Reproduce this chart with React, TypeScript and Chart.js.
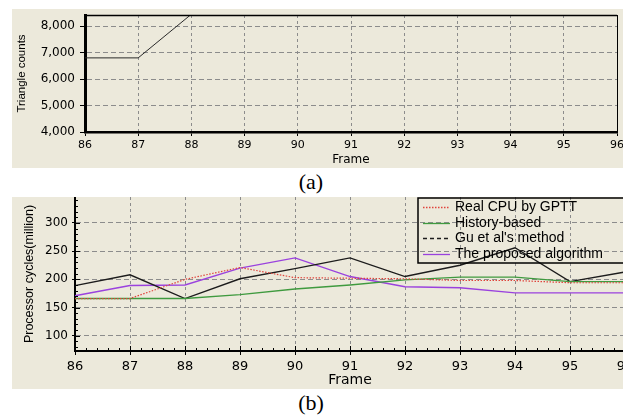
import React, { useEffect, useRef } from "react";
import { Chart, registerables } from "chart.js";
Chart.register(...registerables);

const frames = ["86", "87", "88", "89", "90", "91", "92", "93", "94", "95", "96"];
const triangleTicks = [4000, 5000, 6000, 7000, 8000];
const triangleCounts = [6800, 6800, 8450, null, null, null, null, null, null, null, null];
const cycleTicks = [100, 150, 200, 250, 300];
const realCPU = [166, 166, 200, 221, 203, 202, 201, 198, 198, 194, 194];
const historyBased = [166, 166, 166, 173, 183, 190, 199, 204, 204, 196, 196];
const guEtAl = [189, 208, 166, 201, 219, 238, 205, 225, 256, 196, 213];
const proposed = [171, 189, 190, 220, 238, 205, 187, 185, 176, 176, 176];
const seriesNames = ["Real CPU by GPTT", "History-based", "Gu et al's method", "The proposed algorithm"];
const seriesColors = ["#e0443c", "#3f9a3f", "#1c1c1c", "#9a42de"];
const seriesDash: number[][] = [[1.5, 1.5], [], [], []];
const legendDash: number[][] = [[1.5, 1.5], [], [4, 3], []];

const BG = "#ECE9DB";
const GRID = "#8c8c8c";
const TICK_FONT = "DejaVu Sans";
const TITLE_FONT = "Liberation Sans";

const topRightBorder = {
  id: "topRightBorder",
  afterDraw(chart: any) {
    const { ctx, chartArea: a } = chart;
    ctx.save();
    ctx.strokeStyle = "#000";
    ctx.lineWidth = 1.5;
    ctx.beginPath();
    ctx.moveTo(a.left, a.top + 0.5);
    ctx.lineTo(a.right, a.top + 0.5);
    ctx.stroke();
    ctx.lineWidth = 1;
    ctx.beginPath();
    ctx.moveTo(a.right + 0.5, a.top);
    ctx.lineTo(a.right + 0.5, a.bottom);
    ctx.stroke();
    ctx.restore();
  },
};

const minorTicks = {
  id: "minorTicks",
  afterDraw(chart: any) {
    const { ctx, chartArea: a, scales } = chart;
    ctx.save();
    ctx.strokeStyle = "#000";
    ctx.lineWidth = 1;
    ctx.beginPath();
    for (let v = 80; v <= 340; v += 10) {
      const y = Math.round(scales.y.getPixelForValue(v)) + 0.5;
      if (y < a.top || y > a.bottom) continue;
      ctx.moveTo(a.left, y);
      ctx.lineTo(a.left + (v % 50 === 0 ? 5 : 3), y);
    }
    for (let i = 0; i <= 50; i++) {
      const x = Math.round(scales.x.getPixelForValue(i / 5)) + 0.5;
      ctx.moveTo(x, a.bottom);
      ctx.lineTo(x, a.bottom - (i % 5 === 0 ? 5 : 3));
    }
    ctx.stroke();
    ctx.restore();
  },
};

const insideLegend = {
  id: "insideLegend",
  afterDatasetsDraw(chart: any) {
    const { ctx } = chart;
    const left = 406, top = 1, bottom = 66;
    ctx.save();
    ctx.strokeStyle = "#000";
    ctx.lineWidth = 1.5;
    ctx.strokeRect(left, top, chart.width, bottom - top);
    ctx.font = "14px 'Liberation Sans'";
    ctx.textBaseline = "middle";
    ctx.fillStyle = "#000";
    chart.data.datasets.forEach((ds: any, i: number) => {
      const y = 10 + i * 15.7;
      ctx.beginPath();
      ctx.strokeStyle = ds.borderColor;
      ctx.lineWidth = 1.3;
      ctx.setLineDash(legendDash[i]);
      ctx.moveTo(411, Math.round(y) + 0.5);
      ctx.lineTo(438, Math.round(y) + 0.5);
      ctx.stroke();
      ctx.setLineDash([]);
      ctx.fillText(ds.label, 443, y);
    });
    ctx.restore();
  },
};

function xAxis(size: number, titleSize: number, height: number, tickLen: number, pad: number, borderW: number) {
  return {
    type: "category" as const,
    ticks: { autoSkip: false, maxRotation: 0, font: { family: TICK_FONT, size }, color: "#000", padding: pad },
    grid: { color: GRID, tickColor: "#000", tickLength: tickLen, drawTicks: true },
    border: { color: "#000", width: borderW, dash: [3, 3] },
    title: { display: true, text: "Frame", font: { family: TICK_FONT, size: titleSize }, color: "#000", padding: 0 },
    afterFit: (s: any) => {
      s.height = height;
      s.paddingLeft = 0;
      s.paddingRight = 0;
    },
  };
}

function useChart(ref: React.RefObject<HTMLCanvasElement | null>, make: () => any) {
  useEffect(() => {
    if (!ref.current) return;
    const c = new Chart(ref.current, make());
    return () => c.destroy();
  }, []);
}

export default function App() {
  const refA = useRef<HTMLCanvasElement>(null);
  const refB = useRef<HTMLCanvasElement>(null);

  useEffect(() => {
    document.body.style.margin = "0";
    document.body.style.background = "#fff";
  }, []);

  useChart(refA, () => ({
    type: "line",
    data: {
      labels: frames,
      datasets: [
        { label: "Triangle counts", data: triangleCounts, borderColor: "#2a2a2a", borderWidth: 1, pointRadius: 0, tension: 0, spanGaps: false },
      ],
    },
    options: {
      responsive: false,
      animation: false,
      events: [],
      layout: { padding: { left: 3, top: 6, right: 6, bottom: 1 } },
      plugins: { legend: { display: false }, tooltip: { enabled: false } },
      scales: {
        x: xAxis(11, 12, 35, 4, 3, 2.5),
        y: {
          min: 4000,
          max: 8420,
          afterBuildTicks: (s: any) => {
            s.ticks = triangleTicks.map((v) => ({ value: v }));
          },
          ticks: {
            callback: (v: any) => Number(v).toLocaleString("en-US"),
            font: { family: TICK_FONT, size: 12 },
            color: "#000",
            padding: 5,
          },
          grid: { color: GRID, tickColor: "#000", tickLength: 5 },
          border: { color: "#000", width: 3, dash: [5, 3] },
          title: { display: true, text: "Triangle counts", font: { family: TITLE_FONT, size: 11.5 }, color: "#000", padding: 0 },
          afterFit: (s: any) => {
            s.width = 70;
            s.paddingTop = 0;
            s.paddingBottom = 0;
          },
        },
      },
    },
    plugins: [topRightBorder],
  }));

  useChart(refB, () => ({
    type: "line",
    data: {
      labels: frames,
      datasets: [realCPU, historyBased, guEtAl, proposed].map((d, i) => ({
        label: seriesNames[i],
        data: d,
        borderColor: seriesColors[i],
        borderDash: seriesDash[i],
        borderWidth: i === 0 ? 1.2 : 1.4,
        pointRadius: 0,
        tension: 0,
      })),
    },
    options: {
      responsive: false,
      animation: false,
      events: [],
      layout: { padding: { left: 10, top: 0, right: 27, bottom: 0 } },
      plugins: { legend: { display: false }, tooltip: { enabled: false } },
      scales: {
        x: xAxis(13, 14, 38, 4, 4, 2),
        y: {
          min: 73,
          max: 346,
          afterBuildTicks: (s: any) => {
            s.ticks = cycleTicks.map((v) => ({ value: v }));
          },
          ticks: { font: { family: TICK_FONT, size: 12 }, color: "#000", padding: 4 },
          grid: { color: GRID, tickColor: "#000", tickLength: 3 },
          border: { color: "#000", width: 2, dash: [5, 3] },
          title: { display: true, text: "Processor cycles(million)", font: { family: TITLE_FONT, size: 12.5 }, color: "#000", padding: 0 },
          afterFit: (s: any) => {
            s.width = 53;
            s.paddingTop = 0;
            s.paddingBottom = 0;
          },
        },
      },
    },
    plugins: [minorTicks, insideLegend],
  }));

  const caption: React.CSSProperties = {
    position: "absolute",
    left: 0,
    width: 622,
    textAlign: "center",
    fontFamily: "'Liberation Serif', serif",
    fontSize: 22,
    lineHeight: "24px",
    color: "#000",
  };

  return (
    <div style={{ position: "fixed", left: 0, top: 0, width: 640, height: 419, background: "#fff", overflow: "hidden" }}>
      <div style={{ position: "absolute", left: 12, top: 9, width: 611, height: 159, background: BG }}>
        <canvas ref={refA} width={611} height={159} style={{ display: "block" }} />
      </div>
      <div style={{ ...caption, top: 170 }}>(a)</div>
      <div style={{ position: "absolute", left: 12, top: 197, width: 611, height: 192, background: BG, overflow: "hidden" }}>
        <canvas ref={refB} width={640} height={192} style={{ display: "block" }} />
      </div>
      <div style={{ ...caption, top: 391 }}>(b)</div>
    </div>
  );
}
